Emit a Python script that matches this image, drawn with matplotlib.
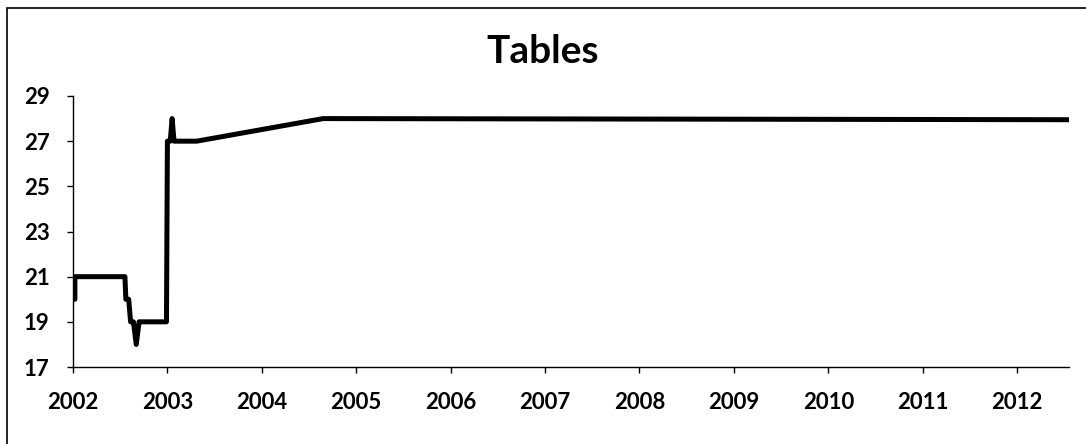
import matplotlib.pyplot as plt
from matplotlib.patches import Rectangle

# decimal year / value pairs for the table count
years = [2002.00, 2002.02, 2002.02, 2002.55, 2002.56, 2002.59, 2002.61, 2002.64,
         2002.67, 2002.70, 2002.72, 2002.99, 2003.00, 2003.03, 2003.05, 2003.07,
         2003.09, 2003.31, 2004.65, 2012.55]
tables = [20, 20, 21, 21, 20, 20, 19, 19,
          18, 19, 19, 19, 27, 27, 28, 27,
          27, 27, 28, 27.95]

year_ticks = list(range(2002, 2013))
value_ticks = [17, 19, 21, 23, 25, 27, 29]

plt.rcParams['font.family'] = ['Lato', 'DejaVu Sans']

fig = plt.figure(figsize=(10.86, 4.44), dpi=100)
ax = fig.add_axes([73 / 1086, 1 - 367 / 444, (1069 - 73) / 1086, (367 - 96) / 444])

ax.plot(years, tables, color='black', lw=3.6, solid_joinstyle='round', solid_capstyle='round')

ax.set_xlim(2002, 2012.55)
ax.set_ylim(17, 29)
ax.set_xticks(year_ticks)
ax.set_yticks(value_ticks)
ax.set_xticklabels([str(y) for y in year_ticks], fontsize=16, fontweight='bold')
ax.set_yticklabels([str(v) for v in value_ticks], fontsize=16, fontweight='bold')
ax.tick_params(direction='out', length=4, width=1)
ax.tick_params(axis='x', pad=14)
ax.tick_params(axis='y', pad=13)
for s in ['top', 'right']:
    ax.spines[s].set_visible(False)
for s in ['left', 'bottom']:
    ax.spines[s].set_linewidth(1)

fig.text(0.5, 1 - 63 / 444, 'Tables', ha='center', va='baseline', fontsize=28, fontweight='bold')

# outer chart frame
fig.patches.append(Rectangle((7 / 1086, -0.1), 1.2, 1 - 8 / 444 + 0.1, transform=fig.transFigure,
                             fill=False, edgecolor='black', lw=1.2))

fig.savefig('out.png', dpi=100)
